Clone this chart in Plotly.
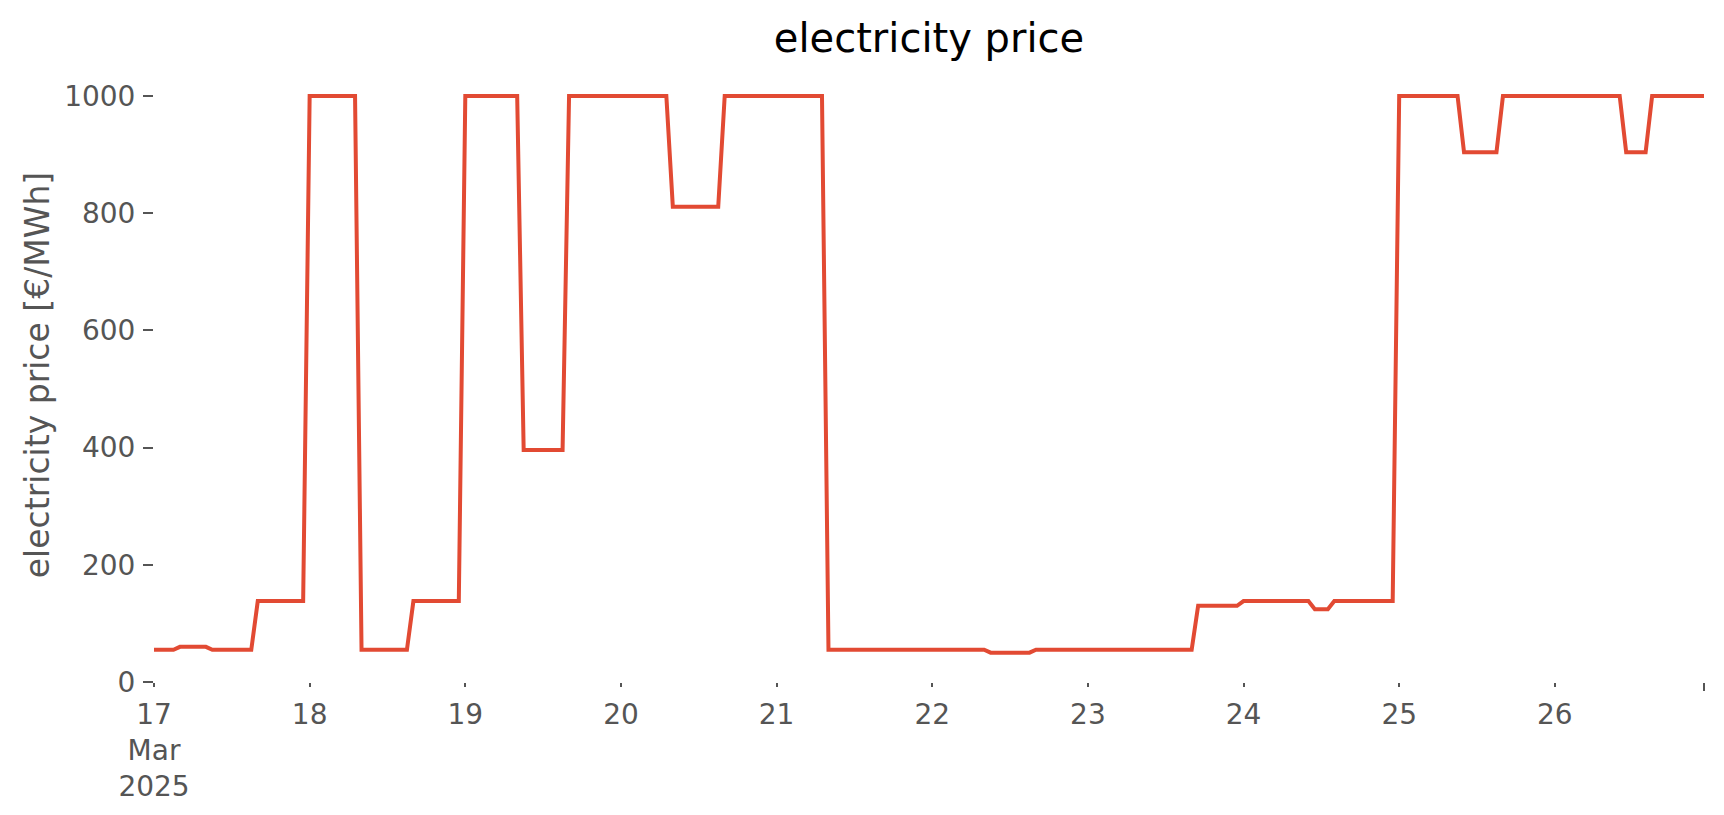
import pandas as pd
import plotly.graph_objects as go

# hourly electricity price [EUR/MWh], 17 Mar 2025 00:00 .. 26 Mar 2025 23:00
day17 = [55, 55, 55, 55, 60, 60, 60, 60, 60, 55, 55, 55, 55, 55, 55, 55, 138, 138, 138, 138, 138, 138, 138, 138]
day18 = [1000, 1000, 1000, 1000, 1000, 1000, 1000, 1000, 55, 55, 55, 55, 55, 55, 55, 55, 138, 138, 138, 138, 138, 138, 138, 138]
day19 = [1000, 1000, 1000, 1000, 1000, 1000, 1000, 1000, 1000, 396, 396, 396, 396, 396, 396, 396, 1000, 1000, 1000, 1000, 1000, 1000, 1000, 1000]
day20 = [1000, 1000, 1000, 1000, 1000, 1000, 1000, 1000, 811, 811, 811, 811, 811, 811, 811, 811, 1000, 1000, 1000, 1000, 1000, 1000, 1000, 1000]
day21 = [1000, 1000, 1000, 1000, 1000, 1000, 1000, 1000, 55, 55, 55, 55, 55, 55, 55, 55, 55, 55, 55, 55, 55, 55, 55, 55]
day22 = [55, 55, 55, 55, 55, 55, 55, 55, 55, 50, 50, 50, 50, 50, 50, 50, 55, 55, 55, 55, 55, 55, 55, 55]
day23 = [55, 55, 55, 55, 55, 55, 55, 55, 55, 55, 55, 55, 55, 55, 55, 55, 55, 130, 130, 130, 130, 130, 130, 130]
day24 = [138, 138, 138, 138, 138, 138, 138, 138, 138, 138, 138, 124, 124, 124, 138, 138, 138, 138, 138, 138, 138, 138, 138, 138]
day25 = [1000, 1000, 1000, 1000, 1000, 1000, 1000, 1000, 1000, 1000, 904, 904, 904, 904, 904, 904, 1000, 1000, 1000, 1000, 1000, 1000, 1000, 1000]
day26 = [1000, 1000, 1000, 1000, 1000, 1000, 1000, 1000, 1000, 1000, 1000, 904, 904, 904, 904, 1000, 1000, 1000, 1000, 1000, 1000, 1000, 1000, 1000]

prices = day17 + day18 + day19 + day20 + day21 + day22 + day23 + day24 + day25 + day26
times = pd.date_range("2025-03-17 00:00", periods=len(prices), freq="h")

day_ticks = pd.date_range("2025-03-17", "2025-03-26", freq="D")
tick_labels = ["17<br>Mar<br>2025", "18", "19", "20", "21", "22", "23", "24", "25", "26"]
y_ticks = [0, 200, 400, 600, 800, 1000]

GREY = "#555555"
FONT = "DejaVu Sans"

fig = go.Figure()
fig.add_trace(go.Scatter(x=times, y=prices, mode="lines",
                         line=dict(color="#E24A33", width=4),
                         name="electricity price"))

fig.update_layout(
    width=1724, height=815,
    margin=dict(l=154, r=20, t=68, b=133),
    paper_bgcolor="white", plot_bgcolor="white",
    font=dict(family=FONT, color=GREY),
    showlegend=False,
    title=dict(text="electricity price", xref="paper", x=0.5, xanchor="center",
               yref="container", y=1 - 38 / 815, yanchor="middle",
               font=dict(size=40, color="black", family=FONT)),
)
fig.update_xaxes(
    type="date", range=[times[0], times[-1]], automargin=False,
    tickmode="array", tickvals=list(day_ticks), ticktext=tick_labels,
    showgrid=False, zeroline=False, showline=False,
    ticks="outside", ticklen=4, tickwidth=2, tickcolor=GREY,
    tickfont=dict(size=28, color=GREY, family=FONT),
    ticklabelstandoff=3,
    minor=dict(tickmode="array", tickvals=[times[-1]], ticks="outside",
               ticklen=8, tickwidth=2, tickcolor=GREY, showgrid=False),
)
fig.update_yaxes(
    range=[0, 1047.6], tickmode="array", tickvals=y_ticks, automargin=False,
    showgrid=False, zeroline=False, showline=False,
    ticks="outside", ticklen=10, tickwidth=2, tickcolor=GREY,
    tickfont=dict(size=28, color=GREY, family=FONT),
    ticklabelstandoff=2,
    title=dict(text="electricity price [€/MWh]", standoff=4,
               font=dict(size=33, color=GREY, family=FONT)),
)

fig.write_html("out.html", config={"displayModeBar": False},
               post_script="document.body.style.margin='0';")
